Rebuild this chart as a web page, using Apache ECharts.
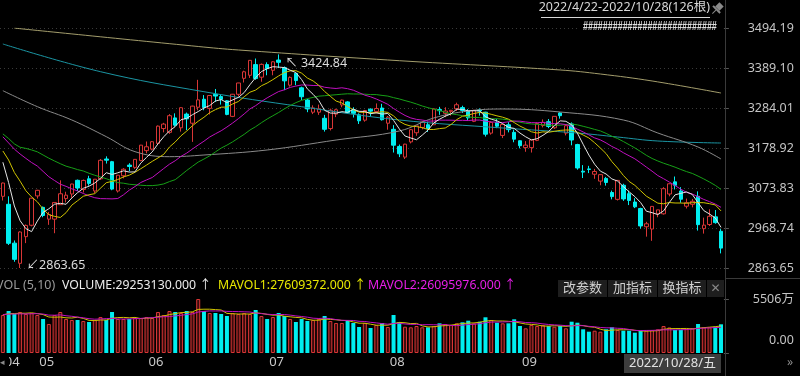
<!DOCTYPE html>
<html>
<head>
<meta charset="utf-8">
<script src="https://cdn.jsdelivr.net/npm/echarts/dist/echarts.min.js"></script>
<style>
html,body{margin:0;padding:0;background:#000;}
#main{width:800px;height:376px;}
</style>
</head>
<body>
<div id="main"></div>
<script>
const year = 2022;
const dates = [
  '4/22','4/25','4/26','4/27','4/28','4/29',
  '5/5','5/6','5/9','5/10','5/11','5/12','5/13','5/16','5/17','5/18','5/19','5/20','5/23','5/24','5/25','5/26','5/27','5/30','5/31',
  '6/1','6/2','6/6','6/7','6/8','6/9','6/10','6/13','6/14','6/15','6/16','6/17','6/20','6/21','6/22','6/23','6/24','6/27','6/28','6/29','6/30',
  '7/1','7/4','7/5','7/6','7/7','7/8','7/11','7/12','7/13','7/14','7/15','7/18','7/19','7/20','7/21','7/22','7/25','7/26','7/27','7/28','7/29',
  '8/1','8/2','8/3','8/4','8/5','8/8','8/9','8/10','8/11','8/12','8/15','8/16','8/17','8/18','8/19','8/22','8/23','8/24','8/25','8/26','8/29','8/30','8/31',
  '9/1','9/2','9/5','9/6','9/7','9/8','9/9','9/13','9/14','9/15','9/16','9/19','9/20','9/21','9/22','9/23','9/26','9/27','9/28','9/29','9/30',
  '10/10','10/11','10/12','10/13','10/14','10/17','10/18','10/19','10/20','10/21','10/24','10/25','10/26','10/27','10/28'
];

// [open, high, low, close]
const candles = [
  [3052,3088,3041,3086.92],[3031,3052,2924,2928.51],[2929,2936,2880,2886.43],[2876,2960,2863.65,2958.28],[2946,2978,2929,2975.48],[2976,3048,2973,3047.06],
  // 05
  [3053,3069,3046,3067.76],[3023,3025,2997,3001.56],[2992,3011,2977,3004.14],[2992,3036,2955,3035.84],[3030,3094,3030,3058.70],[3046,3064,3036,3054.99],
  [3058,3085,3048,3084.28],[3094,3096,3066,3073.75],[3070,3096,3062,3093.70],[3098,3106,3080,3085.98],[3066,3097,3060,3096.96],[3098,3150,3095,3146.57],
  [3150,3157,3138,3146.86],[3143,3145,3068,3070.93],[3066,3108,3062,3107.46],[3106,3126,3099,3123.11],[3134,3139,3118,3130.24],[3128,3150,3124,3149.06],
  [3146,3187,3144,3186.43],
  // 06
  [3172,3196,3165,3182.16],[3176,3197,3173,3195.46],[3191,3238,3189,3236.37],[3230,3245,3220,3241.76],[3220,3268,3216,3263.79],[3258,3270,3235,3238.95],
  [3232,3286,3222,3284.83],[3268,3272,3226,3255.55],[3244,3290,3195,3288.91],[3286,3358,3278,3305.41],[3307,3318,3278,3285.38],[3283,3318,3267,3316.79],
  [3320,3334,3300,3315.43],[3314,3318,3293,3306.72],[3303,3305,3265,3267.20],[3262,3321,3260,3320.15],[3320,3350,3314,3349.75],[3362,3382,3351,3379.19],
  [3370,3410,3363,3409.21],[3398,3414,3358,3361.52],[3365,3401,3353,3398.62],
  // 07
  [3398,3404,3370,3387.64],[3383,3407,3370,3405.43],[3410,3424.84,3389,3404.03],[3390,3393,3331,3355.35],[3344,3367,3340,3364.40],[3375,3376,3344,3356.08],
  [3337,3340,3305,3313.58],[3305,3308,3273,3281.47],[3273,3291,3268,3284.29],[3273,3293,3266,3281.74],[3257,3266,3222,3228.06],[3230,3282,3225,3278.10],
  [3268,3282,3260,3279.43],[3292,3306,3286,3304.72],[3300,3302,3270,3272.00],[3279,3286,3259,3269.97],[3266,3270,3242,3250.39],[3252,3279,3248,3277.44],
  [3281,3283,3262,3275.76],[3275,3296,3270,3282.58],[3284,3295,3251,3253.24],
  // 08
  [3244,3263,3227,3259.96],[3228,3239,3167,3186.27],[3183,3188,3155,3163.67],[3155,3190,3150,3189.04],[3195,3229,3191,3227.03],[3219,3237,3211,3236.93],
  [3233,3250,3228,3247.43],[3240,3248,3221,3230.02],[3240,3283,3240,3281.67],[3280,3287,3266,3276.89],[3270,3286,3260,3276.09],[3275,3279,3264,3277.88],
  [3282,3298,3276,3292.53],[3285,3290,3271,3277.54],[3276,3281,3250,3258.08],[3249,3279,3247,3277.79],[3279,3283,3264,3276.22],[3273,3274,3209,3215.20],
  [3218,3249,3214,3246.25],[3246,3255,3231,3236.22],[3212,3242,3205,3240.73],[3240,3247,3220,3227.22],[3220,3227,3194,3202.14],
  // 09
  [3198,3199,3178,3184.98],[3180,3197,3169,3186.48],[3180,3200,3167,3199.91],[3199,3246,3197,3243.45],[3238,3254,3233,3246.29],[3248,3255,3231,3235.59],
  [3232,3262,3229,3262.05],[3271,3273,3256,3263.80],[3218,3240,3212,3237.54],[3242,3246,3186,3199.92],[3188,3190,3122,3126.40],[3118,3134,3100,3115.60],
  [3124,3132,3113,3122.41],[3110,3124,3098,3117.18],[3092,3110,3081,3108.91],[3099,3103,3080,3088.37],[3062,3067,3044,3051.23],[3044,3094,3041,3093.86],
  [3081,3085,3040,3045.07],[3059,3067,3029,3041.20],[3037,3047,3021,3024.39],
  // 10
  [3020,3022,2967,2974.15],[2972,2985,2946,2979.79],[2966,3026,2935,3025.51],[3006,3016,2997,3016.36],[3006,3076,3004,3071.99],[3058,3086,3052,3084.94],
  [3090,3104,3070,3080.96],[3066,3076,3035,3044.38],[3026,3046,3020,3035.05],[3031,3045,3023,3038.93],[3052,3065,2962,2977.56],[2967,2996,2954,2976.28],
  [2978,3018,2974,2999.50],[2998,3016,2980,2982.90],[2960,2966,2902,2915.93]
];

// volume, 万
const volumes = [
  3874,4282,3976,4180,3976,4078,
  3874,3467,2957,3874,4180,3467,3365,3365,3263,3161,3365,3671,3365,4180,3467,3467,3467,3569,3569,
  3671,3569,4180,3874,4282,4180,4078,4282,4180,5506,4282,4078,4078,3976,3773,4078,3976,4078,3976,4384,3773,
  3467,3671,4078,3773,3467,3161,3467,3263,3365,3467,3773,3263,3059,3059,3365,3059,2651,3059,2549,2855,3059,
  2651,3874,3161,2681,2620,2753,2620,2620,2753,3028,2957,2855,3028,3130,3293,3028,3191,3640,3365,3089,3028,3028,3436,
  2753,2518,2855,2753,2855,2753,2681,2753,2518,3191,3089,2416,2172,2274,2172,2416,2620,2345,2274,2274,2070,
  2274,2274,2345,2416,2753,2605,2348,2362,2441,2535.29,2957.122,2620.348,2621.865,2680.038,2925.313
];

// closes / volumes before the first visible day (for the averages)
const priorClose = [3296.09,3309.75,3223.53,3063.97,3170.71,3215.04,3251.07,3253.69,3259.86,3271.03,3250.26,3212.24,3214.50,3203.94,3266.60,
  3252.20,3282.72,3283.43,3236.70,3251.85,3167.13,3213.33,3186.82,3225.64,3211.24,3195.52,3194.03,3151.05,3079.81];
const priorVol = [3720,3850,3990,4100,3920,3760,3880,4050,3940];

// long averages: [day index, value]
const ma60Pts = [[0,3329.5],[6,3287.5],[12,3252.5],[18,3208.7],[23,3169.3],[29,3156.1],[35,3160.5],[46,3173.7],[58,3199.9],
  [69,3223.6],[75,3257.8],[81,3276.1],[87,3281.4],[97,3273.5],[108,3252.5],[114,3218.3],[121,3181.5],[125,3150]];
const ma120Pts = [[0,3452.2],[17,3379.4],[35,3326.8],[52,3287.4],[69,3252.5],[87,3231.5],[100,3218.3],[107,3207.8],[114,3197.3],[125,3192.0]];
const ma250Pts = [[2,3493.9],[34,3445.6],[41,3436.4],[69,3408.3],[97,3383.9],[104,3373.3],[113,3355],[125,3323.4]];

const priceTicks = {min: 2863.65, max: 3494.19, step: 105.09};
const volMax = 55060000;

const RED = '#d83636', CYAN = '#00eef0';
const FONT = "'Noto Sans','Noto Sans CJK SC',sans-serif";
const N = dates.length;
const last = N - 1;

function ma(src, prior, n) {
  const all = prior.concat(src);
  return src.map(function (_, i) {
    const j = i + prior.length;
    let s = 0;
    for (let k = j - n + 1; k <= j; k++) s += all[k];
    return s / n;
  });
}

const closes = candles.map(c => c[3]);
const ohlc = candles.map(c => [c[0], c[3], c[2], c[1]]);
const up = candles.map(c => c[3] >= c[0]);
const volRaw = volumes.map(v => Math.round(v * 10000));
const priorVolRaw = priorVol.map(v => Math.round(v * 10000));
const ma5 = ma(closes, priorClose, 5).map(v => +v.toFixed(2));
const ma10 = ma(closes, priorClose, 10).map(v => +v.toFixed(2));
const ma20 = ma(closes, priorClose, 20).map(v => +v.toFixed(2));
const ma30 = ma(closes, priorClose, 30).map(v => +v.toFixed(2));
const mavol1 = ma(volRaw, priorVolRaw, 5);
const mavol2 = ma(volRaw, priorVolRaw, 10);

const monthStart = {};
dates.forEach(function (d, i) {
  const m = d.split('/')[0];
  if (i === 0 || m !== dates[i - 1].split('/')[0]) monthStart[i] = (m.length < 2 ? '0' : '') + m;
});

const lastParts = dates[last].split('/');
const weekDay = '日一二三四五六'[new Date(year, +lastParts[0] - 1, +lastParts[1]).getDay()];

const GRID_L = -4.4, GRID_W = 728.3;

const chart = echarts.init(document.getElementById('main'));

function line(name, data, color, smooth, xi, yi) {
  return {
    name: name, type: 'line', data: data, xAxisIndex: xi || 0, yAxisIndex: yi || 0,
    showSymbol: false, symbol: 'none', smooth: smooth || false,
    lineStyle: {color: color, width: 1}, silent: true, z: 3
  };
}

const option = {
  backgroundColor: '#000',
  animation: false,
  grid: [
    {left: GRID_L, width: GRID_W, top: 28, height: 240},
    {left: GRID_L, width: GRID_W, top: 299, height: 54}
  ],
  xAxis: [
    {type: 'category', gridIndex: 0, data: dates, boundaryGap: true,
      axisLine: {show: false}, axisTick: {show: false}, axisLabel: {show: false}, splitLine: {show: false}},
    {type: 'category', gridIndex: 1, data: dates, boundaryGap: true,
      axisLine: {show: false}, axisTick: {show: false}, splitLine: {show: false},
      axisLabel: {
        show: true, margin: 3, color: '#c8c8c8', fontSize: 13, fontFamily: FONT, align: 'left',
        padding: [0, 0, 0, 2],
        interval: function (i) { return monthStart[i] !== undefined; },
        formatter: function (v, i) { return monthStart[i] || ''; }
      }}
  ],
  yAxis: [
    {type: 'value', gridIndex: 0, position: 'right', scale: true,
      min: priceTicks.min, max: priceTicks.max, interval: priceTicks.step,
      axisLine: {show: false},
      axisTick: {show: true, length: 5, lineStyle: {color: '#555'}},
      axisLabel: {margin: 70, align: 'right', color: '#c4c4c4', fontSize: 12.5, fontFamily: FONT,
        formatter: function (v) { return v.toFixed(2); }},
      splitLine: {show: true, lineStyle: {color: '#3a3a3a', type: [1, 3]}}},
    {type: 'value', gridIndex: 1, position: 'right', min: 0, max: volMax, interval: volMax,
      axisLine: {show: false},
      axisTick: {show: true, length: 5, lineStyle: {color: '#555'}},
      axisLabel: {margin: 70, align: 'right', color: '#c4c4c4', fontSize: 12.5, fontFamily: FONT,
        formatter: function (v) { return v === 0 ? '{z|0.00}' : (v / 10000).toFixed(0) + '万'; },
        rich: {z: {color: '#c4c4c4', fontSize: 12.5, fontFamily: FONT, padding: [0, 0, 26, 0]}}},
      splitLine: {show: false}}
  ],
  series: [
    {
      name: 'K', type: 'candlestick', data: ohlc, barWidth: 4, z: 2,
      itemStyle: {color: '#000', color0: CYAN, borderColor: RED, borderColor0: CYAN, borderWidth: 1},
      markPoint: {
        symbol: 'circle', symbolSize: 1, silent: true,
        itemStyle: {color: 'rgba(0,0,0,0)'},
        data: [
          {type: 'max', valueDim: 'highest',
            label: {show: true, position: 'right', distance: 0, offset: [6, 9], color: '#dcdcdc', fontSize: 12.5, fontFamily: FONT,
              formatter: function (p) { return '↖ ' + Number(p.value).toFixed(2); }}},
          {type: 'min', valueDim: 'lowest',
            label: {show: true, position: 'right', distance: 0, offset: [6, -3], color: '#dcdcdc', fontSize: 12.5, fontFamily: FONT,
              formatter: function (p) { return '↙' + Number(p.value).toFixed(2); }}}
        ]
      }
    },
    line('MA250', ma250Pts, '#a39d6c', 0.4),
    line('MA120', ma120Pts, '#1b95a3', 0.4),
    line('MA60', ma60Pts, '#8a8a8a', 0.4),
    line('MA30', ma30, '#17a017'),
    line('MA20', ma20, '#c010c0'),
    line('MA10', ma10, '#cfc300'),
    line('MA5', ma5, '#e4e4e4'),
    {
      name: 'VOL', type: 'bar', xAxisIndex: 1, yAxisIndex: 1, barWidth: 4,
      data: volRaw.map(function (v, i) {
        return {value: v, itemStyle: up[i] ? {color: '#3a0c0c', borderColor: RED, borderWidth: 1} : {color: CYAN}};
      })
    },
    line('MAVOL1', mavol1, '#cfc300', false, 1, 1),
    line('MAVOL2', mavol2, '#c010c0', false, 1, 1)
  ],
  graphic: [
    // separators
    {type: 'line', shape: {x1: 725.5, y1: 0, x2: 725.5, y2: 376}, style: {stroke: '#3a3a3a', lineWidth: 1}, z: 1},
    {type: 'line', shape: {x1: 725, y1: 278.5, x2: 800, y2: 278.5}, style: {stroke: '#3a3a3a', lineWidth: 1}, z: 1},
    // header
    {type: 'text', right: 90, top: 1, z: 10,
      style: {text: year + '/' + dates[0] + '-' + year + '/' + dates[last] + '(' + N + '根)', fill: '#d8d8d8', fontSize: 12.5, fontFamily: FONT}},
    {type: 'line', shape: {x1: 541, y1: 17.5, x2: 710, y2: 17.5}, style: {stroke: '#d8d8d8', lineWidth: 1}, z: 10},
    {type: 'group', x: 718, y: 8, rotation: -Math.PI / 4, z: 10, children: [
      {type: 'rect', shape: {x: -3, y: -5, width: 6, height: 6}, style: {fill: '#8a8a8a'}},
      {type: 'rect', shape: {x: -5, y: 1, width: 10, height: 2}, style: {fill: '#8a8a8a'}},
      {type: 'line', shape: {x1: 0, y1: 3, x2: 0, y2: 8}, style: {stroke: '#8a8a8a', lineWidth: 1}}
    ]},
    {type: 'rect', shape: {x: 580, y: 19, width: 142, height: 15}, style: {fill: '#000'}, z: 9},
    {type: 'text', x: 583, y: 26.5, scaleX: 0.66, z: 10,
      style: {text: '###########################', fill: '#e0e0e0', fontSize: 13.5, fontWeight: 'bold',
        fontFamily: "'Liberation Sans',sans-serif", verticalAlign: 'middle'}},
    // volume header
    {type: 'text', x: -4, y: 279, z: 10, style: {text: 'VOL (5,10)', fill: '#9a9a9a', fontSize: 12.5, fontFamily: FONT}},
    {type: 'text', x: 62, y: 279, z: 10, style: {text: 'VOLUME:' + volRaw[last].toFixed(3) + ' ↑', fill: '#ececec', fontSize: 12.3, fontFamily: FONT}},
    {type: 'text', x: 218, y: 279, z: 10, style: {text: 'MAVOL1:' + mavol1[last].toFixed(3) + ' ↑', fill: '#e8e800', fontSize: 12.3, fontFamily: FONT}},
    {type: 'text', x: 368, y: 279, z: 10, style: {text: 'MAVOL2:' + mavol2[last].toFixed(3) + ' ↑', fill: '#e81ee8', fontSize: 12.3, fontFamily: FONT}},
    // buttons
    {type: 'rect', shape: {x: 558, y: 280, width: 49, height: 17}, style: {fill: '#1e1e1e'}, z: 9},
    {type: 'rect', shape: {x: 608, y: 280, width: 49, height: 17}, style: {fill: '#1e1e1e'}, z: 9},
    {type: 'rect', shape: {x: 658, y: 280, width: 48, height: 17}, style: {fill: '#1e1e1e'}, z: 9},
    {type: 'rect', shape: {x: 707, y: 280, width: 17, height: 17}, style: {fill: '#1e1e1e'}, z: 9},
    {type: 'text', x: 582.5, y: 288.5, z: 10, style: {text: '改参数', fill: '#d0d0d0', fontSize: 13, fontFamily: FONT, align: 'center', verticalAlign: 'middle'}},
    {type: 'text', x: 632.5, y: 288.5, z: 10, style: {text: '加指标', fill: '#d0d0d0', fontSize: 13, fontFamily: FONT, align: 'center', verticalAlign: 'middle'}},
    {type: 'text', x: 682, y: 288.5, z: 10, style: {text: '换指标', fill: '#d0d0d0', fontSize: 13, fontFamily: FONT, align: 'center', verticalAlign: 'middle'}},
    {type: 'text', x: 715.5, y: 288.5, z: 10, style: {text: '✕', fill: '#8a8a8a', fontSize: 12, fontFamily: 'DejaVu Sans', align: 'center', verticalAlign: 'middle'}},
    // bottom bar
    {type: 'rect', shape: {x: 0, y: 355, width: 9, height: 16}, style: {fill: '#000'}, z: 10},
    {type: 'text', x: 0, y: 363, z: 11, style: {text: '◂', fill: '#8a8a8a', fontSize: 9, fontFamily: 'DejaVu Sans', verticalAlign: 'middle'}},
    {type: 'text', x: 787, y: 363, z: 11, style: {text: '»', fill: '#8a8a8a', fontSize: 12, fontFamily: FONT, verticalAlign: 'middle'}},
    {type: 'rect', shape: {x: 624, y: 354, width: 97, height: 19}, style: {fill: '#3d3d3d'}, z: 10},
    {type: 'text', x: 672.5, y: 363.5, z: 11,
      style: {text: year + '/' + dates[last] + '/' + weekDay, fill: '#e0e0e0', fontSize: 13, fontFamily: FONT, align: 'center', verticalAlign: 'middle'}}
  ]
};

chart.setOption(option);
</script>
</body>
</html>
